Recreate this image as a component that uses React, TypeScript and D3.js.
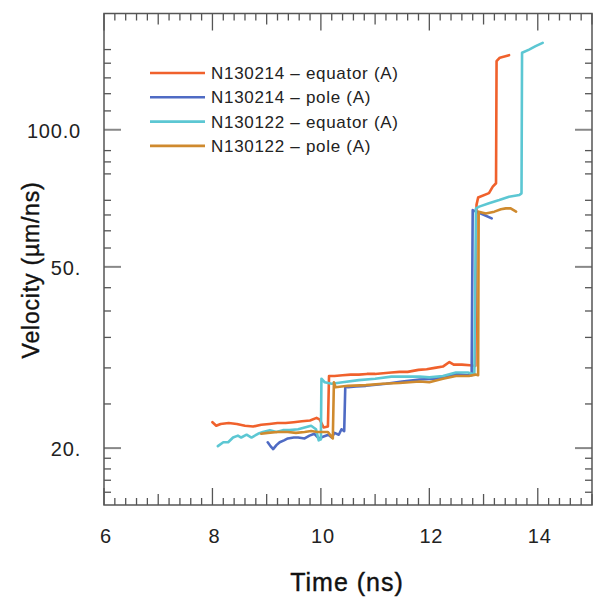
import React from "react";
import * as d3 from "d3";

const W = 594;
const H = 597;

// series: [time (ns), velocity (um/ns)]
const orangeEq: [number, number][] = [
  [8.0, 22.8], [8.07, 22.4], [8.15, 22.6], [8.3, 22.7], [8.45, 22.6], [8.6, 22.4], [8.75, 22.3],
  [8.9, 22.5], [9.05, 22.6], [9.2, 22.7], [9.35, 22.7], [9.5, 22.8], [9.65, 22.9], [9.8, 23.0],
  [9.92, 23.3], [9.98, 23.1], [10.05, 22.2], [10.13, 22.3], [10.15, 28.8], [10.25, 28.8],
  [10.4, 28.9], [10.55, 29.0], [10.7, 29.0], [10.85, 29.1], [11.0, 29.1], [11.15, 29.2],
  [11.3, 29.3], [11.45, 29.4], [11.6, 29.4], [11.8, 29.7], [11.95, 29.8], [12.1, 30.0],
  [12.25, 30.2], [12.37, 30.9], [12.45, 30.5], [12.6, 30.5], [12.75, 30.4], [12.85, 30.3],
  [12.87, 68.4], [12.9, 71.0], [13.1, 72.6], [13.17, 75.0], [13.23, 76.3], [13.24, 141.4],
  [13.3, 144.0], [13.47, 145.8],
];
const bluePole: [number, number][] = [
  [9.02, 20.6], [9.07, 20.2], [9.12, 19.9], [9.18, 20.3], [9.24, 20.6], [9.32, 20.8], [9.39, 21.0],
  [9.5, 21.1], [9.58, 21.1], [9.7, 21.0], [9.79, 21.3], [9.88, 21.5], [9.96, 21.0], [10.05, 21.2],
  [10.14, 21.4], [10.2, 21.1], [10.25, 21.6], [10.33, 21.4], [10.38, 22.0], [10.43, 21.8],
  [10.45, 27.3], [10.5, 27.2], [10.65, 27.3], [10.83, 27.4], [11.2, 27.7], [11.5, 28.0],
  [11.82, 28.3], [12.1, 28.4], [12.3, 28.7], [12.5, 29.1], [12.7, 28.9], [12.78, 28.9],
  [12.8, 66.6], [12.95, 65.5], [13.15, 63.9],
];
const cyanEq: [number, number][] = [
  [8.1, 20.2], [8.2, 20.6], [8.29, 20.6], [8.38, 21.1], [8.47, 21.3], [8.53, 21.1], [8.63, 21.4],
  [8.72, 21.1], [8.84, 21.5], [8.93, 21.7], [9.06, 21.9], [9.18, 21.7], [9.3, 21.9], [9.42, 21.9],
  [9.58, 22.0], [9.7, 22.2], [9.82, 22.4], [9.91, 22.0], [9.96, 20.8], [10.0, 20.9], [10.01, 28.4],
  [10.07, 27.9], [10.2, 27.7], [10.4, 27.9], [10.7, 28.2], [11.0, 28.4], [11.3, 28.7],
  [11.82, 28.7], [12.0, 28.6], [12.25, 28.8], [12.49, 29.3], [12.71, 29.3], [12.83, 29.0],
  [12.86, 67.2], [12.92, 67.8], [13.1, 69.0], [13.29, 70.1], [13.47, 71.3], [13.66, 71.9],
  [13.7, 72.5], [13.71, 147.6], [13.84, 150.0], [13.96, 152.6], [14.09, 155.2],
];
const goldPole: [number, number][] = [
  [8.9, 21.5], [9.02, 21.6], [9.2, 21.7], [9.39, 21.7], [9.54, 21.6], [9.7, 21.7], [9.82, 21.8],
  [9.94, 21.7], [10.05, 21.7], [10.13, 21.7], [10.18, 21.3], [10.22, 21.0], [10.24, 27.9],
  [10.27, 27.2], [10.5, 27.4], [10.83, 27.5], [11.14, 27.7], [11.45, 27.8], [11.82, 28.0],
  [12.0, 27.9], [12.25, 28.4], [12.49, 28.8], [12.73, 28.8], [12.85, 29.0], [12.9, 28.9],
  [12.91, 66.1], [13.04, 65.5], [13.2, 66.1], [13.32, 66.9], [13.41, 67.2], [13.5, 67.2],
  [13.6, 66.1],
];

const seriesNames = [
  "N130214 \u2013 equator (A)",
  "N130214 \u2013 pole (A)",
  "N130122 \u2013 equator (A)",
  "N130122 \u2013 pole (A)",
];
const seriesColors = ["#F0612C", "#4F6BC4", "#5CC7D3", "#CF8A2E"];
const seriesData = [orangeEq, bluePole, cyanEq, goldPole];

const xMajorTicks = [6, 8, 10, 12, 14];
const yMajorTicks = [20, 50, 100];
const yMajorLabels = ["20.", "50.", "100.0"];
const yMinorTicks = [16, 17, 18, 19, 25, 30, 35, 40, 45, 55, 60, 65, 70, 80, 85, 90, 110, 120, 130, 140, 150];

const L = 104, R = 592, T = 13.5, B = 505;

export default function App() {
  const x = d3.scaleLinear().domain([6, 15]).range([L, R]);
  const y = d3.scaleLog().domain([15, 180]).range([B, T]);
  const line = d3
    .line<[number, number]>()
    .x((d) => x(d[0]))
    .y((d) => y(d[1]));

  const xMinor = d3.range(0, 46).map((i) => +(6 + i * 0.2).toFixed(2));
  const axisColor = "#555";
  const font = "'Liberation Sans', Arial, Helvetica, sans-serif";

  return (
    <div style={{ position: "fixed", left: 0, top: 0 }}>
      <svg width={W} height={H} style={{ display: "block", background: "#fff" }}>
        {/* x ticks bottom & top */}
        {xMinor.map((t, i) => {
          const isMajor = Math.abs(t % 2) < 1e-6;
          const isMed = !isMajor && Math.abs(t % 1) < 1e-6;
          const len = isMajor ? 17 : isMed ? 11 : 7;
          const px = x(t);
          return (
            <g key={"xt" + i} stroke={axisColor} strokeWidth={1.3}>
              <line x1={px} x2={px} y1={B} y2={B - len} />
              <line x1={px} x2={px} y1={T} y2={T + len} />
            </g>
          );
        })}
        {/* y minor ticks */}
        {yMinorTicks.map((v, i) => (
          <g key={"ym" + i} stroke={axisColor} strokeWidth={1.3}>
            <line x1={L} x2={L + 7} y1={y(v)} y2={y(v)} />
            <line x1={R} x2={R - 7} y1={y(v)} y2={y(v)} />
          </g>
        ))}
        {/* y major ticks */}
        {yMajorTicks.map((v, i) => (
          <g key={"yM" + i} stroke="#888" strokeWidth={2}>
            <line x1={L} x2={L + 17} y1={y(v)} y2={y(v)} />
            <line x1={R} x2={R - 17} y1={y(v)} y2={y(v)} />
          </g>
        ))}
        {/* frame */}
        <rect x={L} y={T} width={R - L} height={B - T} fill="none" stroke={axisColor} strokeWidth={1.5} />

        {/* data */}
        {seriesData.map((d, i) => (
          <path
            key={"s" + i}
            d={line(d) || ""}
            fill="none"
            stroke={seriesColors[i]}
            strokeWidth={2.6}
            strokeLinejoin="round"
            strokeLinecap="round"
          />
        ))}

        {/* tick labels */}
        {xMajorTicks.map((t) => (
          <text
            key={"xl" + t}
            x={x(t) + 2}
            y={543}
            textAnchor="middle"
            fontFamily={font}
            fontSize={20}
            letterSpacing={0.8}
            fill="#222"
          >
            {t}
          </text>
        ))}
        {yMajorTicks.map((v, i) => (
          <text
            key={"yl" + v}
            x={81}
            y={y(v) + 8}
            textAnchor="end"
            fontFamily={font}
            fontSize={20}
            letterSpacing={0.8}
            fill="#222"
          >
            {yMajorLabels[i]}
          </text>
        ))}

        {/* legend */}
        {seriesNames.map((n, i) => {
          const ly = 73 + i * 24.3;
          return (
            <g key={"lg" + i}>
              <line x1={150} x2={205} y1={ly} y2={ly} stroke={seriesColors[i]} strokeWidth={2.6} />
              <text x={211} y={ly + 6} fontFamily={font} fontSize={17} letterSpacing={0.7} fill="#222">
                {n}
              </text>
            </g>
          );
        })}

        {/* axis titles */}
        <text
          x={347}
          y={591}
          textAnchor="middle"
          fontFamily={font}
          fontSize={25}
          letterSpacing={1}
          fill="#111"
          stroke="#111"
          strokeWidth={0.4}
        >
          Time (ns)
        </text>
        <text
          transform="translate(39,270) rotate(-90)"
          textAnchor="middle"
          fontFamily={font}
          fontSize={23}
          letterSpacing={0.8}
          fill="#111"
          stroke="#111"
          strokeWidth={0.4}
        >
          Velocity (µm/ns)
        </text>
      </svg>
    </div>
  );
}
